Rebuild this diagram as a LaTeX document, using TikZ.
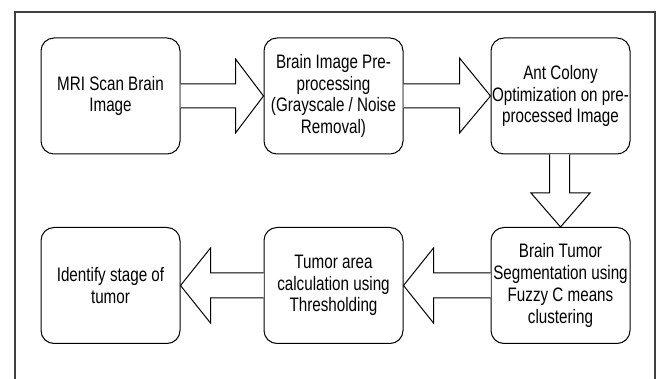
\documentclass[tikz,border=0pt]{standalone}
\usepackage{fontspec}
\setmainfont{Liberation Sans}[FakeStretch=0.78]
\usetikzlibrary{calc}
\tikzset{
  stage/.style={draw=black, line width=1pt, rounded corners=13pt,
    minimum width=139pt, minimum height=116pt, inner sep=1pt,
    align=center, font=\fontsize{19.5}{21.7}\selectfont},
  fat/.style={draw=black, line width=1pt, fill=white, line join=miter},
  frame/.style={draw=black!75, line width=1.6pt}
}
\begin{document}
\begin{tikzpicture}[x=1pt, y=-1pt]
\useasboundingbox (0,0) rectangle (665,379);
\clip (0,0) rectangle (665,379);
\draw[frame] (15,12) rectangle (655,400);

% top row
\node[stage] (mri)  at (110.5,96)  {MRI Scan Brain\\Image};
\node[stage] (pre)  at (333.5,96)  {Brain Image Pre-\\processing\\(Grayscale / Noise\\Removal)};
\node[stage] (aco)  at (560.5,96)  {Ant Colony\\Optimization on pre-\\processed Image};
% bottom row
\node[stage] (seg)  at (560.5,285.5) {Brain Tumor\\Segmentation using\\Fuzzy C means\\clustering};
\node[stage] (area) at (333.5,285.5) {Tumor area\\calculation using\\Thresholding};
\node[stage] (stg)  at (110.5,285.5) {Identify stage of\\tumor};

% block arrows pointing right
\draw[fat] ($(mri.east)+(0,-12)$) -- ($(pre.west)+(-28,-12)$) -- ($(pre.west)+(-28,-37)$)
  -- (pre.west) -- ($(pre.west)+(-28,37)$) -- ($(pre.west)+(-28,12)$) -- ($(mri.east)+(0,12)$);
\draw[fat] ($(pre.east)+(0,-12)$) -- ($(aco.west)+(-31,-12)$) -- ($(aco.west)+(-31,-38)$)
  -- (aco.west) -- ($(aco.west)+(-31,37)$) -- ($(aco.west)+(-31,12)$) -- ($(pre.east)+(0,12)$);
% block arrow pointing down
\draw[fat] ($(aco.south)+(-11,0)$) -- ($(seg.north)+(-11,-34)$) -- ($(seg.north)+(-29.5,-34)$)
  -- (seg.north) -- ($(seg.north)+(29.5,-34)$) -- ($(seg.north)+(9,-34)$) -- ($(aco.south)+(9,0)$);
% block arrows pointing left
\draw[fat] ($(seg.west)+(0,-12.5)$) -- ($(area.east)+(30,-12.5)$) -- ($(area.east)+(30,-37.5)$)
  -- (area.east) -- ($(area.east)+(30,37.5)$) -- ($(area.east)+(30,12.5)$) -- ($(seg.west)+(0,12.5)$);
\draw[fat] ($(area.west)+(0,-12.5)$) -- ($(stg.east)+(30,-12.5)$) -- ($(stg.east)+(30,-37.5)$)
  -- (stg.east) -- ($(stg.east)+(30,37.5)$) -- ($(stg.east)+(30,12.5)$) -- ($(area.west)+(0,12.5)$);
\end{tikzpicture}
\end{document}
